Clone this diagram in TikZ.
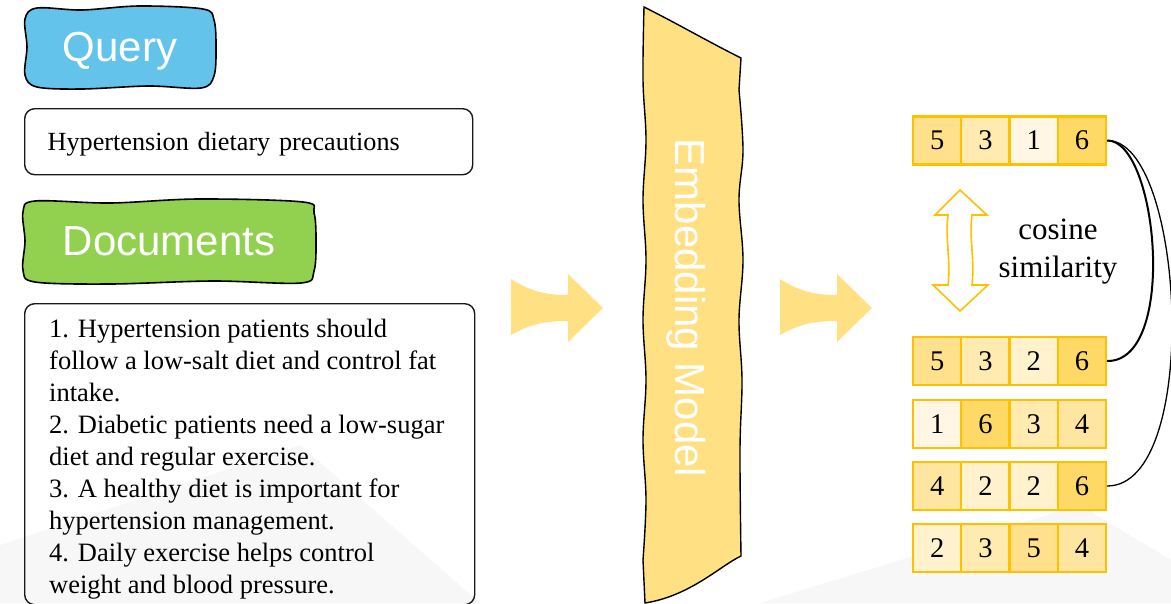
\documentclass[tikz,border=0pt]{standalone}
\usepackage{fontspec}
\setmainfont{Liberation Serif}
\newfontfamily\arialfamily{Liberation Sans}
\usepackage{tikz}
\usetikzlibrary{decorations,decorations.pathmorphing}
\definecolor{querycol}{HTML}{63C3EA}
\definecolor{doccol}{HTML}{92D050}
\definecolor{embcol}{HTML}{FFE083}
\definecolor{vecline}{HTML}{FFC000}
\definecolor{shade1}{HTML}{FFF7E4}
\definecolor{shade2}{HTML}{FFF2CC}
\definecolor{shade3}{HTML}{FFEBB0}
\definecolor{shade4}{HTML}{FFE6A0}
\definecolor{shade5}{HTML}{FFE08C}
\definecolor{shade6}{HTML}{FFD966}
\tikzset{
  tagtext/.style={text=white, inner sep=0pt, text depth=0pt,
    font=\arialfamily\fontsize{42}{50}\selectfont},
  textbox/.style={draw=black!90, line width=1.4pt, rounded corners=10pt},
  cell/.style={draw=vecline, line width=2.4pt, minimum width=48.25pt, minimum height=48pt,
    inner sep=0pt, font=\fontsize{28.5}{30}\selectfont},
}
\newcommand{\wavytag}[7]{% name, left, top, right, bottom, fill, text
  \draw[fill=#6, line width=1.6pt] plot[smooth cycle, tension=.55] coordinates {
    ({#2+12},{#3+2}) ({#2+(#4-#2)*.3},{#3+4}) ({#2+(#4-#2)*.6},{#3}) ({#4-12},{#3+3})
    ({#4-1},{#3+14}) ({#4+1},{(#3+#5)/2}) ({#4-1},{#5-12})
    ({#4-14},{#5}) ({#4-(#4-#2)*.35},{#5-2}) ({#2+(#4-#2)*.3},{#5+1}) ({#2+12},{#5-1})
    ({#2},{#5-13}) ({#2+2},{(#3+#5)/2}) ({#2},{#3+13})};
  \node[tagtext] (#1) at ({(#2+#4)/2},{(#3+#5)/2}) {#7};
}
\newcommand{\embvec}[3]{% name, centre y, values
  \foreach \v [count=\i] in {#3}{
    \node[cell, fill=shade\v] (#1\i) at ({913+48.25*(\i-0.5)},#2) {\v};% one cell per value
  }
}
\newcommand{\swoosh}[1]{
  \fill[embcol, shift={(#1,0)}] (511,279) .. controls (530,291) and (545,295) .. (568,295)
    -- (568,274) -- (603,308) -- (568,342) -- (568,321)
    .. controls (545,321) and (530,324) .. (511,335) -- cycle;
}

\begin{document}
\begin{tikzpicture}[x=1pt,y=-1pt]
  \useasboundingbox (0,0) rectangle (1171,603);
  \clip (0,0) rectangle (1171,603);

  % faint background
  \fill[black!3] (0,603) -- (0,545) -- (300,445) -- (480,603) -- cycle;
  \fill[black!3] (760,603) -- (1080,505) -- (1171,560) -- (1171,603) -- cycle;

  % left column
  \wavytag{querytag}{25}{6}{215}{88}{querycol}{Query}
  \node[textbox, minimum width=448pt, minimum height=66pt, anchor=north west,
    text width=402pt, inner xsep=23pt, text depth=0pt, font=\fontsize{26.2}{32}\selectfont] (querybox)
    at (24,108) {Hypertension dietary precautions};
  \wavytag{doctag}{23}{199}{315}{283}{doccol}{Documents}
  \node[textbox, minimum width=450pt, minimum height=301pt, anchor=north west] (docbox) at (24,303) {};
  \node[anchor=north west, inner sep=0pt, align=left, font=\fontsize{26.5}{32}\selectfont] (doctext)
    at (49,319) {1. Hypertension patients should\\
    follow a low-salt diet and control fat\\
    intake.\\
    2. Diabetic patients need a low-sugar\\
    diet and regular exercise.\\
    3. A healthy diet is important for\\
    hypertension management.\\
    4. Daily exercise helps control\\
    weight and blood pressure.};

  % arrows and model
  \swoosh{0}
  \swoosh{269}
  \draw[fill=embcol, line width=1.4pt] (644,7) .. controls (680,25) and (705,40) .. (741,58)
    -- plot[smooth, tension=.6] coordinates {(739,90) (743,150) (739,200) (743,260) (739,320) (742,380) (740,450) (741,556)}
    .. controls (720,566) and (690,596) .. (645,603)
    -- plot[smooth, tension=.6] coordinates {(643,560) (646,500) (643,440) (646,380) (643,320) (646,260) (643,200) (646,140) (643,80) (644,7)}
    -- cycle;
  \node[rotate=-90, text=white, font=\arialfamily\fontsize{42}{50}\selectfont] (embtext) at (686,308) {Embedding Model};

  % vectors
  \embvec{qv}{140.5}{5,3,1,6}
  \embvec{dva}{361}{5,3,2,6}
  \embvec{dvb}{424}{1,6,3,4}
  \embvec{dvc}{486}{4,2,2,6}
  \embvec{dvd}{548}{2,3,5,4}

  \draw[vecline, fill=white, line width=1.6pt] (960,190) -- (987,215) -- (972,215)
    .. controls (969,240) and (975,260) .. (972,285) -- (988,285) -- (960,311) -- (933,285) -- (948,285)
    .. controls (951,260) and (945,240) .. (948,215) -- (935,215) -- cycle;
  \node[align=center, font=\fontsize{31}{38}\selectfont] (cosine) at (1058,252) {cosine\\similarity};

  \draw[line width=2pt] (qv4.east) .. controls (1158,140) and (1178,362) .. (dva4.east);
  \draw[line width=1.3pt] (qv4.east) .. controls (1185,140) and (1202,486) .. (dvc4.east);
\end{tikzpicture}
\end{document}
